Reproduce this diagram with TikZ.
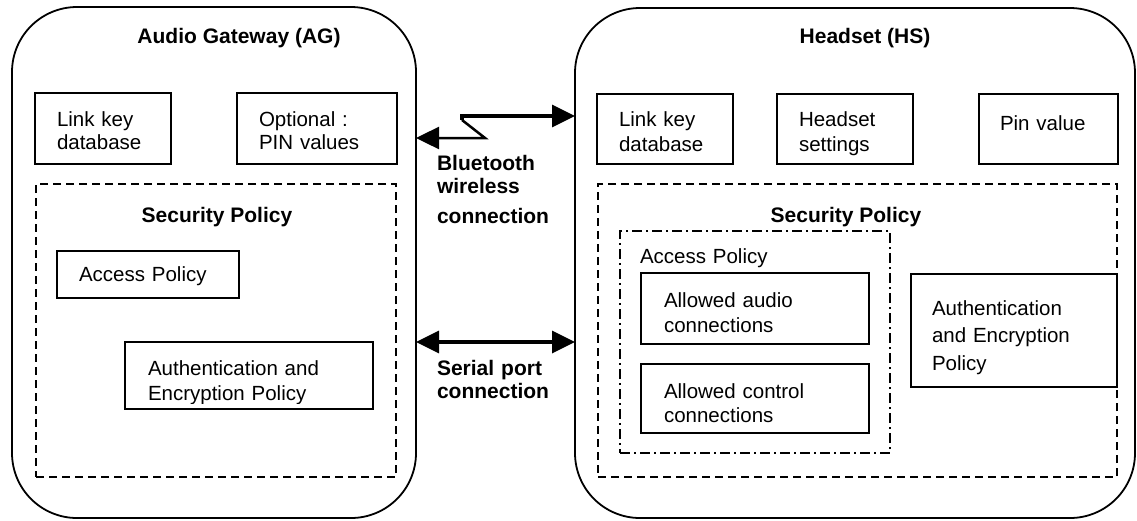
\documentclass[tikz,border=0pt]{standalone}
\usepackage{fontspec}
\setmainfont{Liberation Sans}
\usetikzlibrary{arrows.meta}
\tikzset{
  bigbox/.style={draw, line width=1.8pt, rounded corners=65pt, inner sep=0pt, outer sep=0pt},
  itembox/.style={draw, line width=1.6pt, inner sep=0pt, outer sep=0pt},
  dashbox/.style={draw, line width=1.6pt, dash pattern=on 8pt off 5pt, inner sep=0pt, outer sep=0pt},
  dotdashbox/.style={draw, line width=1.4pt, dash pattern=on 10pt off 4pt on 2pt off 4pt, inner sep=0pt, outer sep=0pt},
  txt/.style={inner sep=0pt, outer sep=0pt, anchor=base west, align=left, text width=260pt, font=\fontsize{20.5}{#1}\selectfont},
  txt/.default=23.5,
  ttl/.style={inner sep=0pt, outer sep=0pt, anchor=base, font=\fontsize{21}{25}\selectfont\bfseries},
  btxt/.style={inner sep=0pt, outer sep=0pt, anchor=base west, align=left, text width=200pt, font=\fontsize{21}{#1}\selectfont\bfseries},
  btxt/.default=23
}
\begin{document}
\begin{tikzpicture}[x=1pt,y=-1pt, >={Triangle[length=23pt,width=22pt]}]
\useasboundingbox (0,0) rectangle (1137,520);

% ---------- Audio Gateway ----------
\node[bigbox, minimum width=404pt, minimum height=511pt] (AG) at (214,262.5) {};
\node[ttl] (AGt) at (239,43) {Audio Gateway (AG)};
\node[itembox, minimum width=136pt, minimum height=71pt] (AGlk) at (103,128.5) {};
\node[txt] (AGlkt) at (57,126) {Link key\\database};
\node[itembox, minimum width=160pt, minimum height=71pt] (AGpin) at (317,128.5) {};
\node[txt] (AGpint) at (259,126) {Optional :\\PIN values};
\node[dashbox, minimum width=360pt, minimum height=293pt] (AGsp) at (216,330.5) {};
\node[ttl] (AGspt) at (217,222) {Security Policy};
\node[itembox, minimum width=182pt, minimum height=47pt] (AGacc) at (148,274.5) {};
\node[txt] (AGacct) at (79,281) {Access Policy};
\node[itembox, minimum width=248pt, minimum height=67pt] (AGauth) at (249,375.5) {};
\begin{scope}
  \clip (126,343) rectangle (372,403);
  \node[txt=25] (AGautht) at (148,375) {Authentication and\\Encryption Policy};
\end{scope}

% ---------- Headset ----------
\node[bigbox, minimum width=560pt, minimum height=510pt] (HS) at (855,263) {};
\node[ttl] (HSt) at (865,43) {Headset (HS)};
\node[itembox, minimum width=136pt, minimum height=70pt] (HSlk) at (665,129) {};
\node[txt=25] (HSlkt) at (619,126) {Link key\\database};
\node[itembox, minimum width=136pt, minimum height=70pt] (HSset) at (845,129) {};
\node[txt=25] (HSsett) at (799,126) {Headset\\settings};
\node[itembox, minimum width=139pt, minimum height=70pt] (HSpin) at (1048.5,129) {};
\node[txt] (HSpint) at (1000,130) {Pin value};
\node[dashbox, minimum width=519pt, minimum height=293pt] (HSsp) at (857.5,330.5) {};
\node[ttl] (HSspt) at (846,222) {Security Policy};
\node[dotdashbox, minimum width=270pt, minimum height=222pt] (HSacc) at (755,342) {};
\node[txt] (HSacct) at (640,263) {Access Policy};
\node[itembox, minimum width=228pt, minimum height=71pt] (HSaud) at (755,308.5) {};
\node[txt=25] (HSaudt) at (664,307) {Allowed audio\\connections};
\node[itembox, minimum width=228pt, minimum height=69pt] (HSctl) at (755,398.5) {};
\node[txt=24] (HSctlt) at (664,398) {Allowed control\\connections};
\node[itembox, minimum width=206pt, minimum height=113pt] (HSauth) at (1014,330.5) {};
\node[txt=27.5] (HSautht) at (932,315) {Authentication\\and Encryption\\Policy};

% ---------- Connections ----------
\coordinate (bz1) at (485,138);
\coordinate (bz2) at (462,120);
\draw[line width=2.5pt, <-] (AG.east |- bz1) -- (bz1) -- (bz2);
\draw[line width=3.5pt, ->] (bz2) -- (462,116) -- (HS.west |- 0,116);
\node[btxt] (btt) at (437,170) {Bluetooth\\wireless\\[7pt]connection};
\coordinate (sp) at (500,342);
\draw[line width=3.5pt, <->] (AG.east |- sp) -- (HS.west |- sp);
\node[btxt] (spt) at (437,375) {Serial port\\connection};
\end{tikzpicture}
\end{document}
